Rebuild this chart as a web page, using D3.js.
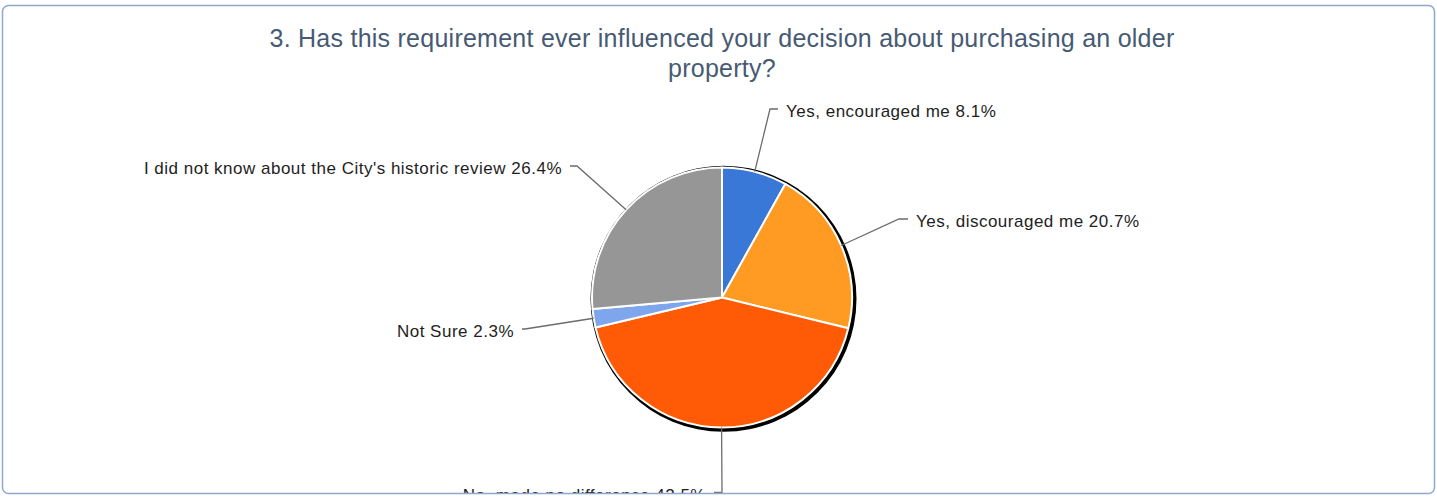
<!DOCTYPE html>
<html>
<head>
<meta charset="utf-8">
<script src="https://cdn.jsdelivr.net/npm/d3@7"></script>
<style>
  html, body { margin: 0; padding: 0; background: #fff; }
  svg { display: block; }
</style>
</head>
<body>
<svg id="chart" width="1437" height="497"></svg>
<script>
// Survey responses, question 3
const categories = [
  "Yes, encouraged me",
  "Yes, discouraged me",
  "No, made no difference",
  "Not Sure",
  "I did not know about the City's historic review"
];
const percentages = [8.1, 20.7, 42.5, 2.3, 26.4];
const sliceColors = ["#3a78d8", "#ff9a22", "#ff5a05", "#7ea6ec", "#969696"];
const titleLines = [
  "3. Has this requirement ever influenced your decision about purchasing an older",
  "property?"
];

// Label callout elbows, relative to the pie centre; side of the text; horizontal tail length
const calloutElbows = [[48, -188.5], [177, -78.5], [0, 195], [-197, 31.5], [-145, -131.5]];
const calloutSides = [1, 1, -1, -1, -1];
const calloutTails = [8, 9, 8, 3, 7];

const W = 1437, H = 497;
const cx = 722, cy = 297.5, R = 130;
const fontFamily = "Liberation Sans, Arial, sans-serif";

const svg = d3.select("#chart");

// Frame
svg.append("defs").append("clipPath").attr("id", "frameClip")
  .append("rect").attr("x", 2).attr("y", 5).attr("width", W - 4).attr("height", 489).attr("rx", 6);

const root = svg.append("g").attr("clip-path", "url(#frameClip)");

svg.append("rect")
  .attr("x", 2.5).attr("y", 5.5).attr("width", W - 5).attr("height", 488)
  .attr("rx", 6)
  .attr("fill", "none").attr("stroke", "#8fa9cf").attr("stroke-width", 1.5);

// Title
const title = root.append("text")
  .attr("x", 722).attr("y", 47)
  .attr("text-anchor", "middle")
  .attr("font-family", fontFamily)
  .attr("font-size", 25)
  .attr("letter-spacing", 0.25)
  .attr("fill", "#475a73");
titleLines.forEach((t, i) => {
  title.append("tspan").attr("x", 722).attr("dy", i === 0 ? 0 : 30).text(t);
});

// Pie
const pie = d3.pie().sort(null).value(d => d)(percentages);
const arc = d3.arc().innerRadius(0).outerRadius(R);
const g = root.append("g").attr("transform", `translate(${cx},${cy})`);

// dark rim / drop edge behind the pie
g.append("circle").attr("cx", 1.5).attr("cy", 1.3).attr("r", 133).attr("fill", "#000");

g.selectAll("path.slice")
  .data(pie)
  .join("path")
  .attr("class", "slice")
  .attr("d", arc)
  .attr("fill", (d, i) => sliceColors[i])
  .attr("stroke", "#fff")
  .attr("stroke-width", 2)
  .attr("stroke-linejoin", "round");

// Callouts
pie.forEach((d, i) => {
  const mid = (d.startAngle + d.endAngle) / 2;
  const p0 = [Math.sin(mid) * R, -Math.cos(mid) * R];
  const p1 = calloutElbows[i];
  const side = calloutSides[i];
  const p2 = [p1[0] + side * calloutTails[i], p1[1]];
  g.append("polyline")
    .attr("points", [p0, p1, p2].map(p => p.join(",")).join(" "))
    .attr("fill", "none").attr("stroke", "#6b6b6b").attr("stroke-width", 1.3);
  g.append("text")
    .attr("x", p2[0] + side * 8)
    .attr("y", p2[1] + 8)
    .attr("text-anchor", side > 0 ? "start" : "end")
    .attr("font-family", fontFamily)
    .attr("font-size", 17)
    .attr("letter-spacing", 0.5)
    .attr("fill", "#1e1e1e")
    .text(`${categories[i]} ${d3.format(".1f")(percentages[i])}%`);
});
</script>
</body>
</html>
